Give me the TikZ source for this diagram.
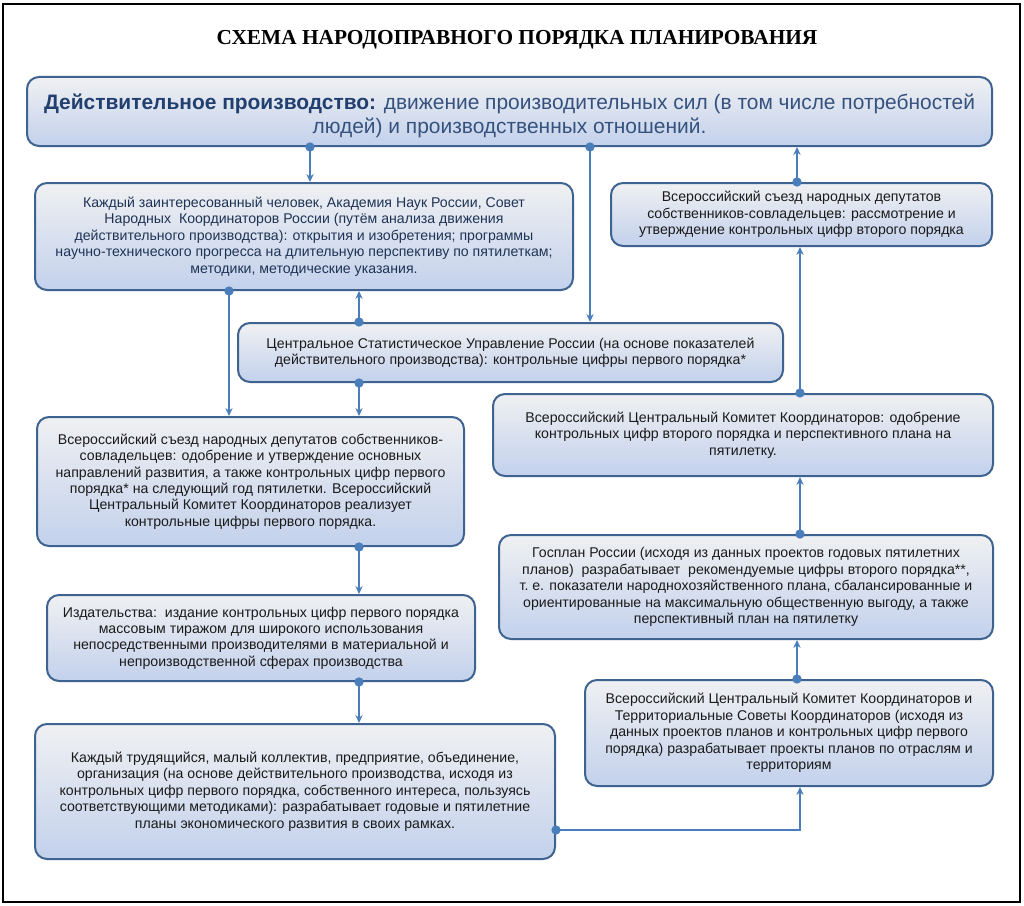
\documentclass[tikz,border=0pt]{standalone}
\usepackage{fontspec}
\setmainfont{Liberation Sans}
\newfontfamily\titlefont{Liberation Serif}
\usetikzlibrary{arrows.meta}
\definecolor{boxtop}{HTML}{EFF0F2}
\definecolor{boxbot}{HTML}{C3D1EC}
\definecolor{boxline}{HTML}{3F6390}
\definecolor{lnkc}{HTML}{4A7EBB}
\definecolor{headc}{HTML}{22406F}
\definecolor{headt}{HTML}{35527E}
\definecolor{acadt}{HTML}{1E3354}
\definecolor{txt}{HTML}{1A1A1A}
\tikzset{
	blk/.style={draw=boxline,line width=1.5pt,rounded corners=9pt,top color=boxtop,bottom color=boxbot,
		align=center,inner sep=0pt,text=txt,font=\fontsize{10.6}{12.3}\selectfont},
	lnk/.style={draw=lnkc,line width=0.8pt,-{Stealth[length=6pt,width=5.5pt,inset=2pt]}},
	dot/.style={circle,fill=lnkc,inner sep=0pt,minimum size=7pt},
}
\begin{document}
\begin{tikzpicture}[x=0.75pt,y=-0.75pt]
	\useasboundingbox (0,0) rectangle (1024,906);
	\draw[line width=1pt] (3,4) rectangle (1020,902);
	\node (title) at (517,40) {\titlefont\bfseries\fontsize{16}{19}\selectfont СХЕМА НАРОДОПРАВНОГО ПОРЯДКА ПЛАНИРОВАНИЯ};
	% boxes
	\node[blk,minimum width=723.75pt,minimum height=51.75pt,font=\fontsize{15.7}{18}\selectfont,text=headt] (prod) at (509.5,111.5)
		{\rule{0pt}{18.5pt}\textbf{\color{headc}Действительное производство:} движение производительных сил (в том числе потребностей\\ людей) и производственных отношений.};
	\node[blk,minimum width=403.5pt,minimum height=80.25pt,text=acadt] (acad) at (304,236.5)
		{Каждый заинтересованный человек, Академия Наук России, Совет\\ Народных\ \ Координаторов России (путём анализа движения\\ действительного производства): открытия и изобретения; программы\\ научно-технического прогресса на длительную перспективу по пятилеткам;\\ методики, методические указания.};
	\node[blk,minimum width=285.75pt,minimum height=47.25pt] (sezdb) at (801.5,214.5)
		{Всероссийский съезд народных депутатов\\ собственников-совладельцев: рассмотрение и\\ утверждение контрольных цифр второго порядка};
	\node[blk,minimum width=408.75pt,minimum height=44.25pt] (csu) at (510.5,352.5)
		{Центральное Статистическое Управление России (на основе показателей\\ действительного производства): контрольные цифры первого порядка*};
	\node[blk,minimum width=320.25pt,minimum height=96.75pt] (sezda) at (250.5,481.5)
		{Всероссийский съезд народных депутатов собственников-\\ совладельцев: одобрение и утверждение основных\\ направлений развития, а также контрольных цифр первого\\ порядка* на следующий год пятилетки. Всероссийский\\ Центральный Комитет Координаторов реализует\\ контрольные цифры первого порядка.};
	\node[blk,minimum width=375pt,minimum height=61.5pt] (ckk) at (743,435)
		{Всероссийский Центральный Комитет Координаторов: одобрение\\ контрольных цифр второго порядка и перспективного плана на\\ пятилетку.};
	\node[blk,minimum width=370.5pt,minimum height=78pt] (gosplan) at (746,587)
		{Госплан России (исходя из данных проектов годовых пятилетних\\ планов)\ \ разрабатывает\ \ рекомендуемые цифры второго порядка**,\\ т.~е. показатели народнохозяйственного плана, сбалансированные и\\ ориентированные на максимальную общественную выгоду, а также\\ перспективный план на пятилетку};
	\node[blk,minimum width=321pt,minimum height=64.5pt] (izd) at (261,638)
		{Издательства:\ \ издание контрольных цифр первого порядка\\ массовым тиражом для широкого использования\\ непосредственными производителями в материальной и\\ непроизводственной сферах производства};
	\node[blk,minimum width=390pt,minimum height=101.25pt] (worker) at (295,791.5)
		{Каждый трудящийся, малый коллектив, предприятие, объединение,\\ организация (на основе действительного производства, исходя из\\ контрольных цифр первого порядка, собственного интереса, пользуясь\\ соответствующими методиками): разрабатывает годовые и пятилетние\\ планы экономического развития в своих рамках.};
	\node[blk,minimum width=306pt,minimum height=79.5pt] (ckkt) at (789,733)
		{Всероссийский Центральный Комитет Координаторов и\\ Территориальные Советы Координаторов (исходя из\\ данных проектов планов и контрольных цифр первого\\ порядка) разрабатывает проекты планов по отраслям и\\ территориям};
	% links
	\draw[lnk] (prod.south -| 310,0) node[dot]{} -- (acad.north -| 310,0);
	\draw[lnk] (prod.south -| 590,0) node[dot]{} -- (csu.north -| 590,0);
	\draw[lnk] (sezdb.north -| 797,0) node[dot]{} -- (prod.south -| 797,0);
	\draw[lnk] (acad.south -| 229,0) node[dot]{} -- (sezda.north -| 229,0);
	\draw[lnk] (csu.north -| 359,0) node[dot]{} -- (acad.south -| 359,0);
	\draw[lnk] (csu.south -| 359,0) node[dot]{} -- (sezda.north -| 359,0);
	\draw[lnk] (sezda.south -| 359,0) node[dot]{} -- (izd.north -| 359,0);
	\draw[lnk] (izd.south -| 359,0) node[dot]{} -- (worker.north -| 359,0);
	\draw[lnk] (worker.east |- 0,830) node[dot]{} -| (ckkt.south -| 800,0);
	\draw[lnk] (ckkt.north -| 797,0) node[dot]{} -- (gosplan.south -| 797,0);
	\draw[lnk] (gosplan.north -| 800,0) node[dot]{} -- (ckk.south -| 800,0);
	\draw[lnk] (ckk.north -| 800,0) node[dot]{} -- (sezdb.south -| 800,0);
\end{tikzpicture}
\end{document}
